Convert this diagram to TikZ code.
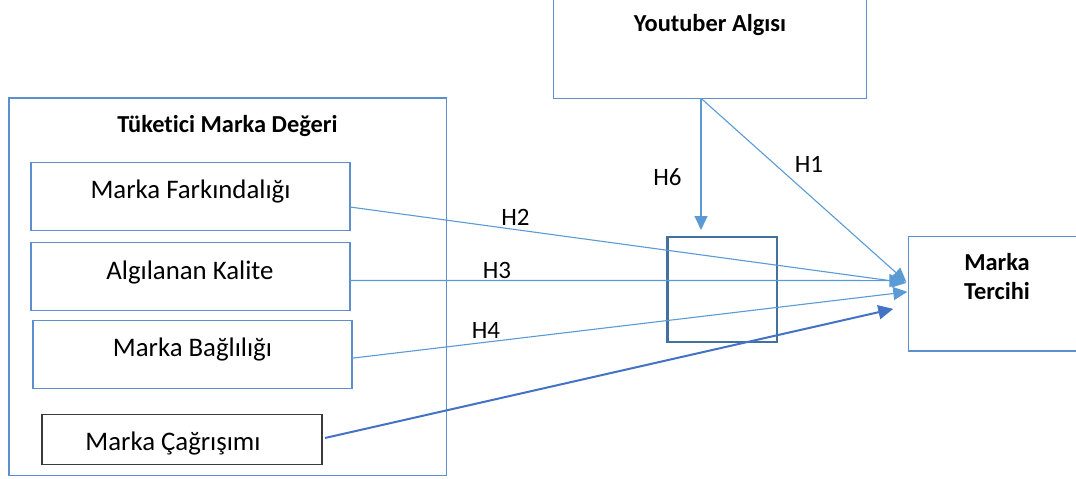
\documentclass[tikz,border=0pt]{standalone}
\usepackage{fontspec}
\setmainfont[Ligatures=NoCommon]{Carlito}
\usetikzlibrary{arrows.meta,calc}
\definecolor{lb}{HTML}{5B9BD5}
\definecolor{bb}{HTML}{5B8FCF}
\definecolor{mb}{HTML}{41719C}
\definecolor{db}{HTML}{4472C4}
\definecolor{dg}{HTML}{3A3A3A}
\begin{document}
\begin{tikzpicture}[x=1pt,y=-1pt,
  frame/.style={draw=bb, line width=1.1pt, inner sep=0pt, outer sep=0pt},
  txt/.style={font=\fontsize{26.8}{32}\selectfont, inner sep=0pt, anchor=base},
  lbl/.style={font=\fontsize{25}{30}\selectfont, inner sep=0pt, anchor=base},
  btxt/.style={font=\fontsize{24.4}{29}\selectfont\bfseries, inner sep=0pt, anchor=base},
  conn/.style={draw=lb, line width=1.1pt, -{Triangle[length=14pt,width=13pt]}},
  strongconn/.style={draw=db, line width=2pt, -{Triangle[length=15pt,width=14pt]}},
]
\clip (0,0) rectangle (1076,479);
\fill[white] (0,0) rectangle (1076,479);

% boxes
\node[frame, minimum width=437.5pt, minimum height=377.7pt] (tmd) at (227.75,286.85) {};
\node[frame, minimum width=319pt, minimum height=67.6pt] (mf) at (190.5,196.5) {};
\node[frame, minimum width=319pt, minimum height=68pt] (ak) at (190.5,276.7) {};
\node[frame, minimum width=319pt, minimum height=68pt] (mbg) at (192.5,354.7) {};
\node[frame, draw=dg, line width=1.5pt, minimum width=280pt, minimum height=50pt] (mc) at (182,439.3) {};
\node[frame, minimum width=313.4pt, minimum height=103.3pt] (yt) at (710,46.65) {};
\node[frame, draw=mb, line width=2.4pt, minimum width=109.4pt, minimum height=105pt] (mod) at (722,289.2) {};
\node[frame, minimum width=177.7pt, minimum height=114.3pt] (mt) at (997.15,293.85) {};

% texts
\node[btxt] (tmdt) at (227.5,132.5) {Tüketici Marka Değeri};
\node[txt] (mft) at (190.5,198.5) {Marka Farkındalığı};
\node[txt] (akt) at (190,279.3) {Algılanan Kalite};
\node[txt] (mbgt) at (192.5,356.7) {Marka Bağlılığı};
\node[txt] (mct) at (173,450.7) {Marka Çağrışımı};
\node[btxt] (ytt) at (710,31.7) {Youtuber Algısı};
\node[btxt] (mtt1) at (997,270) {Marka};
\node[btxt] (mtt2) at (997,299) {Tercihi};

% connectors
\draw[conn] ($(yt.south)+(-9,0)$) -- ($(mod.north)+(-21,-6.7)$);
\draw[conn] ($(yt.south)+(-9,0)$) -- ($(mt.west)+(-2,-12)$);
\draw[conn] ($(mf.east)+(0,10.5)$) -- ($(mt.west)+(-2,-11)$);
\draw[conn] ($(ak.east)+(0,3.8)$) -- ($(mt.west)+(-5,-13.3)$);
\draw[conn] ($(mbg.east)+(0,3.5)$) -- ($(mt.west)+(-1,-2)$);
\draw[strongconn] ($(mc.east)+(3,-1.3)$) -- ($(mt.west)+(-15,15)$);

% labels
\node[lbl] (h6) at (667.5,185) {H6};
\node[lbl] (h1) at (809,172.3) {H1};
\node[lbl] (h2) at (515.5,225) {H2};
\node[lbl] (h3) at (497,278.3) {H3};
\node[lbl] (h4) at (486,338.3) {H4};
\end{tikzpicture}
\end{document}
